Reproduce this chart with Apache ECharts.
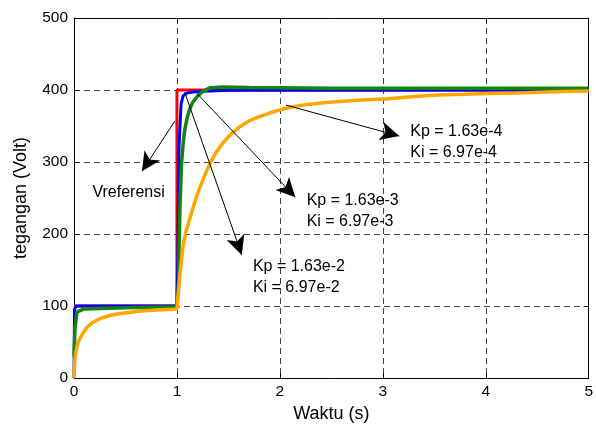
<!DOCTYPE html>
<html>
<head>
<meta charset="utf-8">
<script src="https://cdn.jsdelivr.net/npm/echarts@6/dist/echarts.min.js"></script>
<style>
    html, body { margin: 0; padding: 0; background: #fff; }
    #chart { width: 596px; height: 430px; }
</style>
</head>
<body>
<div id="chart"></div>
<script>
// 数据 (时间 s, 电压 V)
const xTicks = [0, 1, 2, 3, 4, 5];
const yTicks = [0, 100, 200, 300, 400, 500];

const vRef = [[0, 100], [1, 100], [1, 400], [5, 400]];

const vKp2 = [[0, 0], [0.005, 95], [0.02, 100], [1, 100], [1.01, 175], [1.02, 320],
    [1.04, 380], [1.06, 392], [1.1, 396], [1.2, 398], [1.5, 399.5], [5, 400]];

const vKp3 = [[0, 30], [0.01, 70], [0.03, 92], [0.1, 96], [0.5, 97.5], [1, 99],
    [1.015, 130], [1.02, 180], [1.03, 240], [1.045, 298], [1.06, 325], [1.075, 344],
    [1.1, 362], [1.12, 372], [1.15, 382], [1.19, 390], [1.25, 398], [1.32, 403],
    [1.45, 404], [1.7, 403.5], [2.5, 402.5], [5, 402.5]];

const vKp4 = [[0, 0], [0.003, 12], [0.008, 25], [0.016, 35], [0.03, 45], [0.045, 51],
    [0.065, 57], [0.09, 63], [0.13, 71], [0.18, 77], [0.26, 83], [0.34, 86.5],
    [0.42, 89], [0.53, 91], [0.645, 93], [0.8, 94.5], [0.97, 95.4], [1.0, 96],
    [1.008, 110], [1.018, 125], [1.03, 145], [1.045, 165], [1.058, 182], [1.085, 202],
    [1.12, 219], [1.16, 238], [1.2, 256], [1.26, 278], [1.32, 298], [1.38, 313],
    [1.445, 326], [1.52, 338], [1.61, 349], [1.7, 357], [1.8, 363], [1.9, 368],
    [1.99, 372], [2.1, 376], [2.22, 379], [2.4, 382], [2.575, 384], [2.8, 386],
    [3.06, 388], [3.3, 391], [3.54, 393], [3.8, 394], [4.03, 395], [4.3, 396],
    [4.51, 397], [4.75, 398], [5, 398.6]];

// 注释箭头: [起点, 终点]
const arrows = [
    [[0.98, 357], [0.66, 287]],
    [[1.075, 397], [1.63, 171]],
    [[1.19, 396], [2.15, 251]],
    [[2.06, 379], [3.16, 336]]
];

// 注释文字
const notes = [
    { pos: [0.174, 258], text: 'Vreferensi' },
    { pos: [1.733, 140], text: 'Kp = 1.63e-2\nKi = 6.97e-2' },
    { pos: [2.255, 232], text: 'Kp = 1.63e-3\nKi = 6.97e-3' },
    { pos: [3.262, 328], text: 'Kp = 1.63e-4\nKi = 6.97e-4' }
];

const FONT = '"Liberation Sans", Arial, sans-serif';

const chart = echarts.init(document.getElementById('chart'));

function lineSeries(data, color, width) {
    return {
        type: 'line',
        data: data,
        showSymbol: false,
        symbol: 'none',
        silent: true,
        animation: false,
        lineStyle: { color: color, width: width },
        z: 3
    };
}

const baseAxis = {
    axisLine: { show: true, onZero: false, lineStyle: { color: '#000', width: 1 } },
    axisTick: { show: true, inside: true, length: 5, lineStyle: { color: '#000' } }
};

const option = {
    animation: false,
    backgroundColor: '#fff',
    grid: { left: 74, right: 5, top: 18, bottom: 52 },
    xAxis: [{
        ...baseAxis,
        type: 'value',
        min: xTicks[0],
        max: xTicks[xTicks.length - 1],
        interval: 1,
        name: 'Waktu (s)',
        nameLocation: 'middle',
        nameGap: 27,
        nameTextStyle: { fontFamily: FONT, fontSize: 18, color: '#000' },
        axisLabel: { fontFamily: FONT, fontSize: 15.5, color: '#000', margin: 6 },
        splitLine: { show: true, lineStyle: { color: '#444', type: [6, 4], width: 1 } }
    }, {
        ...baseAxis,
        type: 'value',
        position: 'top',
        min: xTicks[0],
        max: xTicks[xTicks.length - 1],
        interval: 1,
        axisLabel: { show: false },
        splitLine: { show: false }
    }],
    yAxis: [{
        ...baseAxis,
        type: 'value',
        min: yTicks[0],
        max: yTicks[yTicks.length - 1],
        interval: 100,
        name: 'tegangan (Volt)',
        nameLocation: 'middle',
        nameGap: 44,
        nameTextStyle: { fontFamily: FONT, fontSize: 18, color: '#000' },
        axisLabel: { fontFamily: FONT, fontSize: 15.5, color: '#000', margin: 6 },
        splitLine: { show: true, lineStyle: { color: '#444', type: [6, 4], width: 1 } }
    }, {
        ...baseAxis,
        type: 'value',
        position: 'right',
        min: yTicks[0],
        max: yTicks[yTicks.length - 1],
        interval: 100,
        axisLabel: { show: false },
        splitLine: { show: false }
    }],
    series: [
        lineSeries(vRef, '#ff0000', 3),
        lineSeries(vKp2, '#0000ff', 3),
        lineSeries(vKp3, '#0f870f', 3.5),
        lineSeries(vKp4, '#ffa500', 3.5),
        {
            type: 'line',
            data: [],
            silent: true,
            z: 5,
            markLine: {
                silent: true,
                animation: false,
                symbol: ['none', 'arrow'],
                symbolSize: [14, 19],
                label: { show: false },
                lineStyle: { color: '#000', width: 1, type: 'solid' },
                itemStyle: { color: '#000' },
                data: arrows.map(a => [{ coord: a[0] }, { coord: a[1] }])
            },
            markPoint: {
                silent: true,
                animation: false,
                symbol: 'rect',
                symbolSize: 1,
                itemStyle: { color: 'rgba(0,0,0,0)' },
                label: {
                    show: true,
                    position: 'right',
                    distance: 0,
                    fontFamily: FONT,
                    fontSize: 16,
                    lineHeight: 21,
                    color: '#000'
                },
                data: notes.map(n => ({ coord: n.pos, value: n.text, label: { formatter: n.text } }))
            }
        }
    ]
};

chart.setOption(option);
</script>
</body>
</html>
